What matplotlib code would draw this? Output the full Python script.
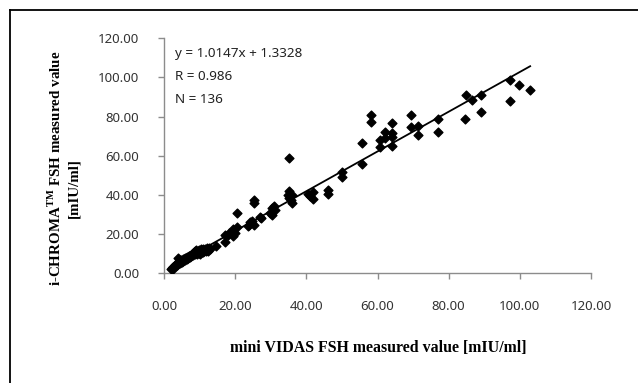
import numpy as np
import matplotlib
matplotlib.use("Agg")
from matplotlib import pyplot as plt
from matplotlib.lines import Line2D

# mini VIDAS (x) vs i-CHROMA (y), FSH [mIU/ml]
x_high = [97.2, 97.2, 99.8, 102.9,
          84.8, 86.6, 89.0, 89.0, 84.7,
          77.1, 77.1,
          69.5, 69.5, 71.3, 71.3,
          64.0, 64.0, 64.0, 64.1,
          62.2, 62.2, 60.8, 60.8,
          58.1, 58.1,
          55.7, 55.7,
          50.1, 50.1,
          46.0, 46.0,
          41.9, 41.9, 40.5, 41.0,
          35.1, 35.1, 35.1, 36.1, 36.1, 35.6, 34.8,
          31.0, 30.4, 30.4, 31.2, 29.8,
          27.4, 27.0,
          25.3, 25.3, 25.3, 24.3, 23.9, 24.8, 23.5,
          20.4, 20.4, 19.5, 19.5, 18.4, 20.0, 19.0, 17.1, 17.1, 18.1,
          14.7]
y_high = [98.5, 88.0, 96.0, 93.8,
          91.0, 88.6, 91.2, 82.5, 78.8,
          78.6, 72.1,
          80.6, 74.5, 75.0, 70.4,
          76.5, 71.4, 69.6, 64.8,
          72.3, 68.9, 68.2, 64.6,
          81.0, 77.4,
          66.7, 55.6,
          51.5, 49.4,
          42.6, 40.4,
          41.3, 38.0, 40.6, 39.5,
          59.0, 41.8, 38.4, 40.1, 36.1, 37.5, 40.2,
          34.3, 33.2, 29.8, 32.5, 30.6,
          28.1, 28.5,
          37.5, 35.8, 24.7, 26.2, 24.8, 26.8, 24.0,
          30.7, 23.4, 22.8, 18.8, 20.5, 20.7, 20.7, 16.2, 19.6, 19.6,
          14.1]

x_low = [2.1, 2.3, 2.4, 2.5, 2.6, 2.8, 3.0, 3.1, 3.2, 3.3,
         3.5, 3.6, 3.8, 4.0, 4.0, 4.2, 4.4, 4.5, 4.6, 4.7,
         4.9, 5.0, 5.2, 5.4, 5.5, 5.7, 5.8, 5.9, 6.0, 6.2,
         6.4, 6.6, 6.8, 6.9, 7.0, 7.1, 7.3, 7.5, 7.7, 7.9,
         8.0, 8.1, 8.2, 8.4, 8.6, 8.8, 9.0, 9.1, 9.2, 9.3,
         9.5, 9.7, 9.9, 10.0, 10.1, 10.2, 10.4, 10.6, 10.8, 11.0,
         11.1, 11.2, 11.5, 11.8, 12.0, 12.2, 12.3, 12.6, 13.0]
y_low = [2.0, 2.6, 3.1, 2.4, 3.3, 3.0, 3.9, 3.5, 4.4, 4.0,
         4.8, 4.2, 5.3, 7.6, 5.0, 5.9, 5.2, 7.0, 6.4, 5.6,
         6.6, 6.0, 7.1, 6.3, 7.4, 6.9, 7.9, 7.3, 6.8, 7.8,
         7.2, 8.4, 7.7, 8.9, 8.1, 9.0, 8.3, 9.4, 8.8, 9.9,
         9.2, 10.4, 9.6, 10.8, 9.8, 11.3, 10.2, 11.8, 10.9, 9.7,
         11.4, 10.5, 12.1, 11.0, 9.9, 11.6, 12.4, 10.8, 11.9, 12.3,
         10.9, 11.6, 12.6, 11.2, 12.8, 12.0, 11.4, 12.9, 12.6]

slope = 1.0147
intercept = 1.3328
r_value = 0.986

x = np.array(x_high + x_low)
y = np.array(y_high + y_low)
ticks = [0, 20, 40, 60, 80, 100, 120]

plt.rcParams["mathtext.fontset"] = "custom"
plt.rcParams["mathtext.rm"] = "Liberation Serif:bold"

fig = plt.figure(figsize=(6.38, 3.83), dpi=100)
W, H = 638, 383
ax = fig.add_axes([164 / W, 1 - 273.3 / H, (591 - 164) / W, (273.3 - 38.3) / H])

ax.scatter(x, y, marker="D", s=20, color="black", zorder=3)
xl = np.array([x.min(), x.max()])
ax.plot(xl, slope * xl + intercept, color="black", lw=1.3, zorder=2)

ax.set_xlim(0, 120)
ax.set_ylim(0, 120)
ax.set_xticks(ticks)
ax.set_yticks(ticks)
ax.set_xticklabels([f"{t:.2f}" for t in ticks])
ax.set_yticklabels([f"{t:.2f}" for t in ticks])
for s in ["top", "right"]:
    ax.spines[s].set_visible(False)
for s in ["left", "bottom"]:
    ax.spines[s].set_color("#8c8c8c")
    ax.spines[s].set_linewidth(1.0)
ax.tick_params(axis="both", direction="out", length=4, width=1, color="#8c8c8c",
               labelsize=9.5, labelcolor="#333333")
ax.tick_params(axis="x", pad=15)
ax.tick_params(axis="y", pad=14)
for lab in ax.get_xticklabels() + ax.get_yticklabels():
    lab.set_family("Noto Sans")

stats = [f"y = {slope}x + {intercept}", f"R = {r_value}", f"N = {len(x)}"]
for i, s in enumerate(stats):
    fig.text(175 / W, 1 - (53.3 + 23 * i) / H, s, ha="left", va="center",
             fontsize=9.7, family="Noto Sans", color="#222222")

fig.text(378 / W, 1 - 348 / H, "mini VIDAS FSH measured value [mIU/ml]",
         ha="center", va="center", fontsize=11.4, fontweight="bold",
         family="Liberation Serif")
fig.text(55 / W, 1 - 168.7 / H, r"i-CHROMA$^{\mathrm{TM}}$ FSH measured value",
         ha="center", va="center", rotation=90, fontsize=10.8, fontweight="bold",
         family="Liberation Serif")
fig.text(73.5 / W, 1 - 188 / H, "[mIU/ml]",
         ha="center", va="center", rotation=90, fontsize=10.8, fontweight="bold",
         family="Liberation Serif")

# outer chart frame (only top and left edges are inside the picture)
fig.add_artist(Line2D([10 / W, 1.01], [1 - 10 / H, 1 - 10 / H], color="black", lw=1.3))
fig.add_artist(Line2D([10 / W, 10 / W], [-0.01, 1 - 10 / H], color="black", lw=1.3))

plt.savefig("out.png", dpi=100)
